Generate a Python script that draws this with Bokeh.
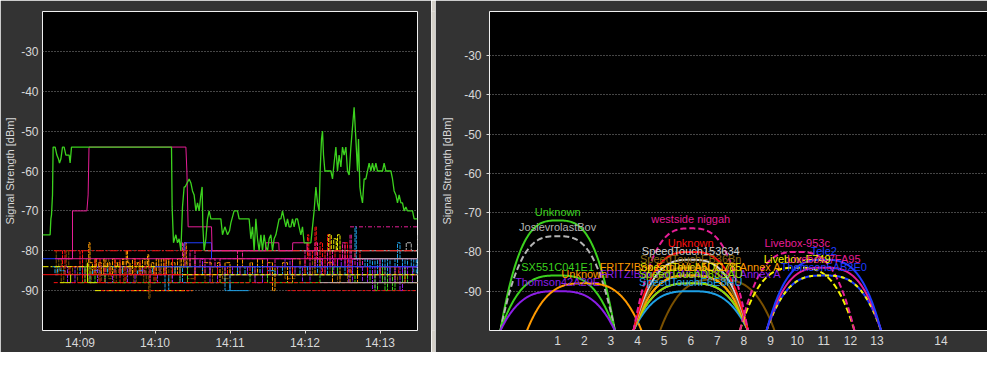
import numpy as np
from bokeh.plotting import figure
from bokeh.layouts import row
from bokeh.models import FixedTicker, LinearAxis
from bokeh.core.properties import value
from bokeh.embed import file_html
from bokeh.resources import INLINE

# ---------------- LEFT PANEL DATA (time = seconds after 14:08:00, signal in dBm)
time_ticks = [60, 120, 180, 240, 300]
time_labels = ["14:09", "14:10", "14:11", "14:12", "14:13"]
dbm_ticks = [-90, -80, -70, -60, -50, -40, -30]
dbm_labels = ["-90", "-80", "-70", "-60", "-50", "-40", "-30"]

green_main = [(30, -76), (36.1, -76), (36.7, -72), (37.2, -71), (38, -66), (38.5, -54), (40.1, -54),
              (41.5, -56), (42.8, -57), (43.6, -58), (44.7, -57), (46, -54), (47.3, -54), (48.7, -56),
              (51.3, -56), (52.1, -58), (53.2, -54), (133.2, -54), (133.7, -69), (134.8, -78),
              (136.7, -76), (138, -78), (139.3, -77), (140.7, -80), (142, -69), (143.3, -64),
              (144.1, -64), (147.3, -62), (148.7, -63), (150, -65), (151.3, -66), (152.7, -70),
              (154, -68), (155.3, -70), (156.7, -66), (157.7, -64), (158.3, -74), (159.3, -80),
              (160.7, -77), (162, -72), (163.3, -70), (164.7, -72), (172.7, -72), (174, -76),
              (175.9, -74), (178, -76), (179.6, -75), (180.7, -73), (183.3, -70), (186, -70),
              (187.3, -72), (195.3, -72), (196.7, -77), (198, -74), (199.3, -80), (200.7, -72),
              (202, -77), (203.3, -80), (204.7, -76), (206, -80), (207.3, -76), (208.7, -79),
              (210, -80), (211.3, -77), (212.7, -76), (214, -80), (215.3, -77), (216.7, -76),
              (218, -74), (219.3, -72), (220.7, -72), (222, -70), (223.3, -72), (224.7, -74),
              (226, -72), (227.3, -74), (228.7, -74), (230, -72), (231.3, -74), (232.7, -72),
              (234, -72), (235.3, -74), (236.7, -76), (238, -74), (239.3, -78), (240.7, -78),
              (242, -78), (244.7, -78), (246, -74), (247.3, -70), (248.7, -64), (250, -68),
              (251.3, -70), (252.1, -60), (253.2, -52), (254, -50), (254.8, -56), (255.9, -60),
              (260.7, -60), (262, -62), (263.3, -58), (264.7, -54), (266, -60), (267.3, -56),
              (268.7, -59), (270, -54), (271.3, -56), (272.7, -54), (274, -60), (275.3, -61),
              (276.7, -54), (278, -49), (279.3, -44), (280.7, -52), (282, -60), (282.8, -52),
              (283.9, -64), (284.7, -66), (286, -68), (287.3, -62), (288.7, -62), (290, -60),
              (291.3, -58), (292.7, -60), (294, -58), (295.3, -60), (296.7, -58), (298, -60),
              (302, -60), (303.3, -58), (304.7, -60), (307.3, -60), (308.7, -60), (310, -62),
              (311.3, -65), (312.7, -66), (314, -68), (315.3, -66), (316.7, -68), (318, -68),
              (319.3, -70), (320.7, -69), (322, -70), (326, -70), (327.3, -72), (330, -72)]

magenta_main = [(40, -82), (54, -82), (54, -70), (65.5, -70), (66.5, -66), (67.2, -54), (144.7, -54),
                (145.5, -60), (146.5, -74), (165.2, -74), (165.7, -80), (208.5, -80), (208.7, -78),
                (219, -78), (219.3, -80), (230, -80), (230.2, -78), (241.5, -78), (241.7, -80),
                (250, -80)]

blue_box = [(143.3, -80), (143.3, -78), (165.2, -78), (165.2, -82)]

grey_80 = [(160, -80), (330, -80)]
red_80 = [(39, -80), (330, -80)]
magenta_82 = [(42, -82), (330, -82)]
blue_82 = [(30, -82), (43, -82)]
grey_82 = [(279, -82), (330, -82)]
yellow_84 = [(30, -84), (150, -84)]
blue_84 = [(120, -84), (330, -84)]
red_86 = [(30, -86), (330, -86)]
cyan_86 = [(170, -86), (330, -86)]
yellow_86 = [(142, -86), (330, -86)]
red_88 = [(39, -88), (330, -88)]
grey_88 = [(252, -88), (330, -88)]
lime_88a = [(44, -88), (52.5, -88), (52.5, -86)]
lime_88b = [(66, -83), (66, -88), (74, -88)]
yellow_90 = [(72, -90), (150, -90)]
red_90a = [(77, -90), (150, -90)]
red_90b = [(226, -90), (330, -90)]
cyan_90 = [(180, -88), (180, -90), (195, -90)]
magenta_74 = [(276, -74), (330, -74)]

noise_orange = [(66, -84), (67, -78), (68, -83), (70, -86), (72, -82), (73, -84), (75, -83), (77, -86),
                (79, -82), (80, -84), (82, -83), (84, -86), (86, -82), (88, -84), (90, -83), (92, -86),
                (94, -82), (95, -84), (97, -80), (98, -83), (100, -86), (102, -82), (104, -84),
                (106, -83), (108, -86), (110, -82), (112, -84), (114, -81), (115, -84), (117, -83),
                (119, -86), (121, -82), (123, -84), (125, -82), (127, -86), (129, -82), (131, -84),
                (133, -83), (136, -86), (138, -82), (141, -84), (143, -78), (145, -84), (148, -82),
                (152, -86), (158, -83), (165, -84), (170, -83), (172, -88), (176, -83), (180, -86),
                (186, -82), (190, -84), (196, -83), (198, -86), (202, -82), (206, -84), (210, -83),
                (214, -90), (216, -84), (222, -83), (226, -88), (230, -82), (236, -84), (244, -86),
                (248, -82), (252, -84), (258, -83), (262, -88), (268, -84), (276, -88), (282, -84),
                (290, -86), (300, -84), (312, -88), (320, -84), (330, -84)]

noise_brown = [(40, -80), (41, -86), (43, -82), (45, -88), (47, -84), (49, -80), (51, -86), (54, -84),
               (58, -88), (62, -86), (65, -82), (67, -88), (69, -84), (71, -86), (73, -83), (75, -88),
               (77, -84), (79, -86), (81, -82), (83, -87), (85, -84), (87, -88), (89, -83), (91, -86),
               (93, -84), (95, -88), (97, -82), (99, -86), (101, -84), (103, -88), (105, -83),
               (107, -86), (109, -84), (111, -88), (113, -82), (115, -92), (116, -86), (117, -84),
               (119, -88), (121, -83), (123, -86), (125, -84), (127, -86), (129, -82), (131, -88),
               (133, -84), (136, -86), (140, -82), (146, -87), (152, -84), (160, -88), (166, -84),
               (174, -87), (180, -84), (188, -86), (194, -84), (200, -88), (206, -84), (212, -86),
               (218, -84), (224, -87), (232, -84), (240, -86), (246, -82), (252, -86), (260, -84),
               (266, -88), (274, -84), (282, -86), (290, -88), (296, -84), (302, -88), (308, -86),
               (314, -88), (320, -84), (326, -88), (330, -88)]

noise_cyan = [(38, -84), (40, -86), (42, -84), (44, -85), (48, -86), (60, -84), (64, -86), (70, -85),
              (76, -86), (82, -84), (88, -86), (94, -84), (100, -86), (106, -85), (112, -86), (118, -84),
              (124, -86), (128, -90), (131, -86), (136, -84), (142, -88), (146, -86), (152, -84),
              (158, -86), (164, -84), (170, -86), (176, -90), (180, -86), (186, -84), (192, -86),
              (198, -84), (204, -86), (210, -85), (216, -86), (222, -84), (228, -86), (236, -84),
              (242, -86), (250, -84), (258, -86), (266, -84), (272, -86), (278, -82), (280, -74),
              (281, -82), (284, -84), (288, -82), (290, -86), (292, -82), (294, -84), (296, -82),
              (298, -86), (300, -82), (302, -84), (304, -82), (306, -86), (308, -82), (312, -84),
              (314, -78), (316, -82), (318, -86), (320, -82), (322, -84), (325, -82), (327, -86),
              (329, -82), (330, -86)]

noise_purple = [(44, -84), (50, -88), (56, -84), (62, -86), (68, -88), (74, -84), (80, -88), (86, -86),
                (92, -84), (98, -88), (104, -86), (110, -84), (116, -88), (122, -86), (128, -84),
                (134, -88), (140, -84), (146, -86), (152, -82), (158, -84), (164, -88), (170, -84),
                (176, -86), (182, -84), (188, -86), (194, -84), (200, -88), (206, -84), (212, -86),
                (218, -84), (224, -82), (228, -86), (232, -84), (238, -88), (244, -84), (250, -82),
                (253, -86), (256, -84), (260, -82), (263, -86), (266, -82), (269, -84), (272, -82),
                (275, -88), (278, -82), (282, -84), (286, -88), (290, -84), (294, -90), (296, -84),
                (300, -88), (304, -84), (308, -88), (312, -84), (316, -90), (318, -84), (322, -88),
                (326, -84), (330, -84)]

noise_red = [(44, -84), (46, -80), (48, -86), (52, -84), (60, -80), (62, -88), (64, -84), (68, -86),
             (72, -82), (76, -88), (80, -84), (84, -86), (88, -82), (92, -88), (96, -84), (100, -86),
             (104, -82), (108, -86), (112, -84), (116, -88), (120, -84), (124, -86), (128, -82),
             (134, -86), (140, -84), (146, -88), (152, -84), (170, -86), (178, -84), (196, -86),
             (210, -84), (230, -86), (240, -82), (242, -76), (243, -82), (246, -80), (248, -74),
             (249, -82), (252, -78), (254, -86), (256, -80), (258, -76), (260, -84), (264, -80),
             (268, -82), (272, -78), (274, -86), (277, -82), (280, -80), (284, -84), (290, -86),
             (300, -84), (315, -86), (330, -86)]

noise_magenta = [(140, -82), (142, -78), (144, -84), (148, -80), (152, -84), (156, -82), (160, -86),
                 (164, -82), (168, -84), (172, -82), (186, -80), (190, -82), (210, -84), (216, -82),
                 (230, -84), (240, -80), (244, -84), (248, -78), (250, -82), (254, -84), (258, -80),
                 (262, -84), (266, -82), (270, -78), (272, -84), (276, -76), (277, -82), (280, -84),
                 (286, -82), (300, -84), (330, -84)]

noise_lime = [(60, -88), (64, -84), (68, -88), (72, -86), (80, -88), (140, -84), (146, -88), (196, -86),
              (210, -88), (252, -86), (262, -84), (266, -86), (280, -88), (292, -86), (296, -90),
              (298, -88), (302, -84), (304, -90), (306, -86), (310, -90), (312, -88), (318, -86),
              (322, -88), (330, -88)]

noise_yellow = [(258, -80), (259, -76), (261, -80), (263, -77), (265, -80), (266, -76), (268, -80)]

noise_grey = [(320, -80), (321, -78), (324, -78), (325, -80), (329, -80), (330, -76)]

# ---------------- RIGHT PANEL DATA (one entry per network)
channel_ticks = [1, 2, 3, 4, 5, 6, 7, 8, 9, 10, 11, 12, 13, 15.4]
channel_tick_labels = ["1", "2", "3", "4", "5", "6", "7", "8", "9", "10", "11", "12", "13", "14"]

ssids = ["Unknown", "JosievrolastBov", "SX551C041E1", "Thomson42A29E", "Unknown",
         "", "", "SpeedTouchF6E8HU", "FRITZ!Box Fon WLAN 7141 Annex A", "SpeedTouchD83SAU",
         "SpeedTouch5DC785", "FRITZ!Box Fon WLAN 7170 Annex A", "SpeedTouchEB36Bn",
         "SpeedTouch153634", "Unknown", "westside niggah",
         "Livebox-F749", "Livebox-953c", "Thomson5AB2E0", "", "Livebox-7FA95", "Tele2"]
channels = [1, 1, 1, 1, 2,
            6, 7, 6, 6, 6,
            6, 6, 6,
            6, 6, 6,
            10, 10, 11, 11, 11, 11]
peaks = [-72, -76, -86, -90, -88,
         -88, -87, -90, -88, -88,
         -86, -86, -84,
         -82, -80, -74,
         -84, -80, -86, -86, -84, -82]
net_colors = ["#3cd21e", "#b4b4b4", "#3cd21e", "#8c1ee6", "#ff9a00",
              "#7a5000", "#7a5000", "#1ea0e6", "#8c1ee6", "#8ce000",
              "#f5f500", "#ff9a00", "#8b6a10",
              "#d0d0d0", "#ff1010", "#e61e96",
              "#f5f500", "#e61e96", "#1e3cff", "#f5f500", "#e61e96", "#1e3cff"]
net_dashes = ["solid", "6 3", "solid", "solid", "solid",
              "solid", "solid", "solid", "solid", "solid",
              "solid", "solid", "solid",
              "solid", "solid", "6 3",
              "6 3", "6 3", "solid", "4 4", "solid", "solid"]

BG = "#333333"
FG = "#d8d8d8"
FONT = "Liberation Sans"
TICK_SIZE = "12px"

# ---------------- LEFT FIGURE
p1 = figure(width=431, height=352, x_range=(30, 330), y_range=(-100, -20),
            output_backend="svg", toolbar_location=None,
            background_fill_color="black", border_fill_color=BG,
            outline_line_color="#f0f0f0", outline_line_width=1,
            min_border_left=42, min_border_right=14, min_border_top=11, min_border_bottom=18)

def draw(p, pairs, color, dash="solid", mode=None, width=1):
    xs = [a for a, b in pairs]
    ys = [b for a, b in pairs]
    if mode:
        p.step(xs, ys, mode=mode, line_color=color, line_dash=dash, line_width=width)
    else:
        p.line(xs, ys, line_color=color, line_dash=dash, line_width=width)

noise_styles = [(noise_brown, "#7a5000"), (noise_orange, "#ff9a00"), (noise_cyan, "#1ea0e6"),
                (noise_purple, "#8c1ee6"), (noise_red, "#ff1010"), (noise_magenta, "#e61e96"),
                (noise_lime, "#3cd21e"), (noise_yellow, "#f5f500"), (noise_grey, "#b4b4b4")]
for data, col in noise_styles:
    draw(p1, data, col, "4 1", "after")

base_styles = [(grey_80, "#b4b4b4", "solid"), (red_80, "#ff1010", "8 2 2 2"),
               (magenta_82, "#e61e96", "solid"), (blue_82, "#1e3cff", "solid"),
               (grey_82, "#b4b4b4", "solid"), (yellow_84, "#f5f500", "6 2 2 2"),
               (blue_84, "#1e3cff", "solid"), (red_86, "#ff1010", "solid"),
               (cyan_86, "#1ea0e6", "4 2"), (yellow_86, "#f5f500", "4 2"),
               (red_88, "#ff1010", "4 2"), (grey_88, "#b4b4b4", "solid"),
               (lime_88a, "#c8f000", "solid"), (lime_88b, "#c8f000", "solid"),
               (yellow_90, "#f5f500", "6 2 2 2"), (red_90a, "#ff1010", "3 2"),
               (red_90b, "#ff1010", "3 2"), (cyan_90, "#1ea0e6", "solid"),
               (magenta_74, "#e61e96", "4 2 1 2"), (blue_box, "#1e3cff", "solid")]
for data, col, dash in base_styles:
    draw(p1, data, col, dash)

draw(p1, magenta_main, "#e61e96")
draw(p1, green_main, "#3cd21e", width=1.3)

p1.xgrid.visible = False
p1.ygrid.grid_line_color = "#8a8a8a"
p1.ygrid.grid_line_dash = "1 2"
p1.yaxis.ticker = FixedTicker(ticks=dbm_ticks)
p1.yaxis.major_label_overrides = dict(zip(dbm_ticks, dbm_labels))
p1.yaxis.axis_label = "Signal Strength [dBm]"
p1.yaxis.axis_label_text_font_style = "normal"
p1.yaxis.axis_label_text_font_size = "11px"
p1.yaxis.axis_label_text_color = FG
p1.yaxis.axis_label_text_font = FONT
p1.yaxis.axis_label_standoff = 2
p1.yaxis.major_label_standoff = 4
p1.yaxis.major_tick_line_color = None
p1.yaxis.major_tick_out = 0
p1.yaxis.major_tick_in = 0
p1.yaxis.minor_tick_line_color = None
p1.yaxis.axis_line_color = None
p1.xaxis.ticker = FixedTicker(ticks=time_ticks)
p1.xaxis.major_label_overrides = dict(zip(time_ticks, time_labels))
p1.xaxis.major_tick_line_color = FG
p1.xaxis.major_tick_out = 3
p1.xaxis.major_tick_in = 0
p1.xaxis.major_label_standoff = 2
p1.xaxis.minor_tick_line_color = None
p1.xaxis.axis_line_color = None
for ax in (p1.xaxis, p1.yaxis):
    ax.major_label_text_color = FG
    ax.major_label_text_font_size = TICK_SIZE
    ax.major_label_text_font = FONT

# ---------------- SEPARATOR
sep = figure(width=4, height=352, output_backend="svg", toolbar_location=None,
             x_axis_location=None, y_axis_location=None, min_border=0,
             background_fill_color="#d4d0c8", border_fill_color="#d4d0c8",
             outline_line_color=None)
sep.grid.visible = False

# ---------------- RIGHT FIGURE
p2 = figure(width=552, height=352, x_range=(-1.56, 17.15), y_range=(-100, -18.8),
            output_backend="svg", toolbar_location=None,
            background_fill_color="black", border_fill_color=BG,
            outline_line_color=None,
            min_border_left=54, min_border_right=0, min_border_top=11, min_border_bottom=18)

half_width = 2.15
for ch, pk, col, dash in zip(channels, peaks, net_colors, net_dashes):
    xs = np.linspace(ch - half_width, ch + half_width, 121)
    u = np.abs((xs - ch) / half_width)
    ys = -100 + (pk + 100) * (1 - u ** 3)
    p2.line(xs, ys, line_color=col, line_width=2, line_dash=dash)

p2.text(x=channels, y=peaks, text=ssids, text_color=net_colors,
        text_font=value(FONT), text_font_size="11px",
        text_align="center", text_baseline="middle", y_offset=-9)

p2.xgrid.visible = False
p2.ygrid.grid_line_color = "#8a8a8a"
p2.ygrid.grid_line_dash = "1 2"
p2.yaxis.ticker = FixedTicker(ticks=dbm_ticks)
p2.yaxis.major_label_overrides = dict(zip(dbm_ticks, dbm_labels))
p2.yaxis.axis_label = "Signal Strength [dBm]"
p2.yaxis.axis_label_text_font_style = "normal"
p2.yaxis.axis_label_text_font_size = "11px"
p2.yaxis.axis_label_text_color = FG
p2.yaxis.axis_label_text_font = FONT
p2.yaxis.axis_label_standoff = 8
p2.yaxis.major_label_standoff = 5
p2.yaxis.major_tick_line_color = FG
p2.yaxis.major_tick_out = 3
p2.yaxis.major_tick_in = 0
p2.yaxis.minor_tick_line_color = None
p2.yaxis.axis_line_color = "#f0f0f0"
p2.xaxis.ticker = FixedTicker(ticks=channel_ticks)
p2.xaxis.major_label_overrides = dict(zip(channel_ticks, channel_tick_labels))
p2.xaxis.major_tick_line_color = None
p2.xaxis.major_tick_out = 0
p2.xaxis.major_tick_in = 0
p2.xaxis.major_label_standoff = 5
p2.xaxis.minor_tick_line_color = None
p2.xaxis.axis_line_color = "#f0f0f0"
for ax in (p2.xaxis, p2.yaxis):
    ax.major_label_text_color = FG
    ax.major_label_text_font_size = TICK_SIZE
    ax.major_label_text_font = FONT

top_axis = LinearAxis(ticker=FixedTicker(ticks=[]), major_tick_line_color=None,
                      minor_tick_line_color=None, major_tick_out=0, major_tick_in=0,
                      major_label_standoff=0, major_label_text_font_size="0px",
                      axis_line_color="#f0f0f0")
p2.add_layout(top_axis, "above")

layout = row(p1, sep, p2)
open("out.html", "w").write(file_html(layout, INLINE))
